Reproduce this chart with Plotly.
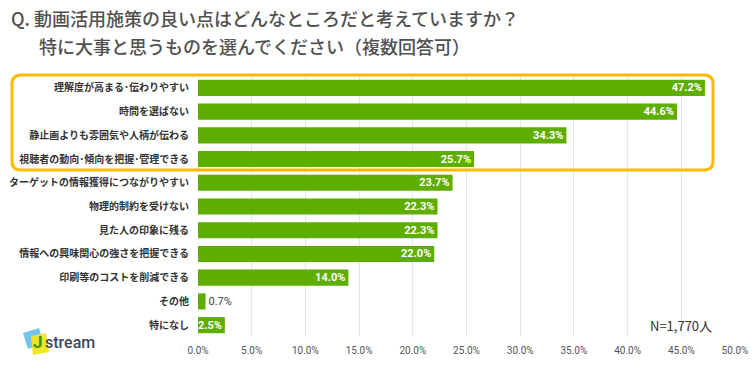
import plotly.graph_objects as go

categories = [
    "理解度が高まる･伝わりやすい",
    "時間を選ばない",
    "静止画よりも雰囲気や人柄が伝わる",
    "視聴者の動向･傾向を把握･管理できる",
    "ターゲットの情報獲得につながりやすい",
    "物理的制約を受けない",
    "見た人の印象に残る",
    "情報への興味関心の強さを把握できる",
    "印刷等のコストを削減できる",
    "その他",
    "特になし",
]
values = [47.2, 44.6, 34.3, 25.7, 23.7, 22.3, 22.3, 22.0, 14.0, 0.7, 2.5]
x_ticks = [0, 5, 10, 15, 20, 25, 30, 35, 40, 45, 50]
x_tick_labels = [f"{v:.1f}%" for v in x_ticks]
title_line1 = "Q. 動画活用施策の良い点はどんなところだと考えていますか？"
title_line2 = "特に大事と思うものを選んでください（複数回答可）"
n_label = "N=1,770人"

W, H = 753, 371
L, R, T, B = 198, 18, 76, 34
PW, PH = W - L - R, H - T - B


def px(x):
    return (x - L) / PW


def py(y):
    return (H - B - y) / PH


positions = ["inside" if v >= 2 else "outside" for v in values]
text_colors = ["#ffffff" if v >= 2 else "#444444" for v in values]

fig = go.Figure(
    go.Bar(
        x=values,
        y=categories,
        orientation="h",
        marker=dict(color="#5eae00", line=dict(width=0)),
        text=[f"{v:.1f}%" for v in values],
        textposition=positions,
        insidetextanchor="end",
        constraintext="none",
        textfont=dict(family="Roboto", size=11, color=text_colors, weight="bold"),
        cliponaxis=False,
        hoverinfo="skip",
    )
)

fig.update_traces(outsidetextfont=dict(family="Roboto", size=11, color="#444444", weight="normal"))

# rounded highlight box
x0, x1, y0, y1, r = 12, 713, 75, 170, 9
path = (
    f"M {px(x0 + r)} {py(y0)} L {px(x1 - r)} {py(y0)} "
    f"Q {px(x1)} {py(y0)} {px(x1)} {py(y0 + r)} "
    f"L {px(x1)} {py(y1 - r)} Q {px(x1)} {py(y1)} {px(x1 - r)} {py(y1)} "
    f"L {px(x0 + r)} {py(y1)} Q {px(x0)} {py(y1)} {px(x0)} {py(y1 - r)} "
    f"L {px(x0)} {py(y0 + r)} Q {px(x0)} {py(y0)} {px(x0 + r)} {py(y0)} Z"
)

# logo squares
blue = [(23, 333), (39, 328), (44, 344), (28, 349)]
yellow = [(31, 336), (46, 333), (49, 352), (33, 355)]


def poly(pts):
    s = "M " + " L ".join(f"{px(a)} {py(b)}" for a, b in pts) + " Z"
    return s


shapes = [
    dict(type="path", path=path, xref="paper", yref="paper",
         line=dict(color="#ffb900", width=3), fillcolor="rgba(0,0,0,0)", layer="above"),
    dict(type="path", path=poly(blue), xref="paper", yref="paper",
         line=dict(width=0), fillcolor="#72c5ee", layer="above"),
    dict(type="path", path=poly(yellow), xref="paper", yref="paper",
         line=dict(width=0), fillcolor="#f2e41c", opacity=0.95, layer="above"),
]

annotations = [
    dict(text=title_line1, x=px(9), y=py(18), xref="paper", yref="paper",
         xanchor="left", yanchor="middle", showarrow=False,
         font=dict(family="Noto Sans CJK JP", size=18, color="#505050", weight=500)),
    dict(text=title_line2, x=px(37), y=py(46), xref="paper", yref="paper",
         xanchor="left", yanchor="middle", showarrow=False,
         font=dict(family="Noto Sans CJK JP", size=18, color="#505050", weight=500)),
    dict(text=n_label, x=px(681), y=py(325), xref="paper", yref="paper",
         xanchor="center", yanchor="middle", showarrow=False,
         font=dict(family="Noto Sans CJK JP", size=13, color="#333333")),
    dict(text="<b>J</b>", x=px(38), y=py(342), xref="paper", yref="paper",
         xanchor="center", yanchor="middle", showarrow=False,
         font=dict(family="Roboto", size=17, color="#3f8f18")),
    dict(text="stream", x=px(43), y=py(342), xref="paper", yref="paper",
         xanchor="left", yanchor="middle", showarrow=False,
         font=dict(family="Roboto", size=16, color="#3b4756", weight=500)),
]

fig.update_layout(
    width=W, height=H,
    margin=dict(l=L, r=R, t=T, b=B, pad=0, autoexpand=False),
    paper_bgcolor="white", plot_bgcolor="white",
    bargap=0.32,
    showlegend=False,
    shapes=shapes,
    annotations=annotations,
    xaxis=dict(
        range=[0, 50], tickvals=x_ticks, ticktext=x_tick_labels,
        showgrid=True, gridcolor="#e4e6ee", gridwidth=1,
        zeroline=False, showline=False, ticks="",
        tickfont=dict(family="Roboto", size=10, color="#555555"),
        ticklabelstandoff=6, fixedrange=True, automargin=False,
    ),
    yaxis=dict(
        autorange="reversed", showgrid=False, zeroline=False, showline=False,
        ticks="", tickfont=dict(family="Noto Sans CJK JP", size=10, color="#333333", weight="bold"),
        ticklabelstandoff=8, fixedrange=True, automargin=False,
    ),
)

fig.write_html(
    "out.html",
    config={"displayModeBar": False},
    post_script="document.body.style.margin='0';",
)
